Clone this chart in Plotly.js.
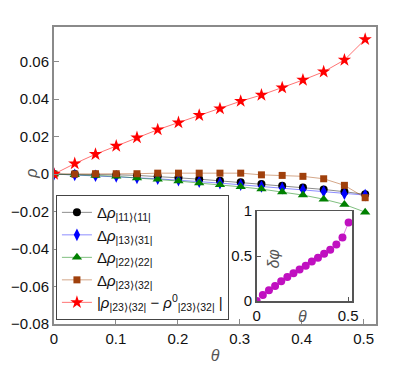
<!DOCTYPE html>
<html>
<head>
<meta charset="utf-8">
<script src="https://cdn.plot.ly/plotly-3.0.1.min.js"></script>
<style>
  html, body { margin: 0; padding: 0; background: #fff; }
  #chart { width: 415px; height: 366px; }
</style>
</head>
<body>
<div id="chart"></div>
<script>
// theta values shared by all series
const theta = [0, 0.0335, 0.067, 0.1005, 0.134, 0.1675, 0.201, 0.2345, 0.268, 0.3015, 0.335, 0.3685, 0.402, 0.4355, 0.469, 0.5025];

const rho11 = [0, 0, -0.0002, -0.0004, -0.0007, -0.0012, -0.002, -0.0027, -0.0036, -0.0044, -0.0053, -0.0062, -0.0071, -0.0082, -0.0094, -0.0108];
const rho13 = [0, -0.0004, -0.0009, -0.0012, -0.002, -0.0025, -0.0032, -0.0041, -0.0048, -0.0057, -0.0066, -0.0075, -0.0084, -0.0093, -0.0105, -0.0112];
const rho22 = [0, -0.0004, -0.0007, -0.0012, -0.0021, -0.0028, -0.0037, -0.0048, -0.0057, -0.0068, -0.008, -0.0096, -0.0112, -0.0134, -0.0162, -0.0203];
const rho23 = [0, 0, 0.0002, 0.0002, 0.0002, 0.0005, 0.0005, 0.0005, 0.0005, 0.0005, -0.0004, -0.0007, -0.0012, -0.0025, -0.006, -0.0126];
const absDiff = [0, 0.0056, 0.0106, 0.015, 0.0195, 0.0237, 0.0275, 0.0314, 0.0349, 0.0389, 0.0422, 0.0461, 0.0502, 0.0546, 0.0609, 0.0719];

// inset: phase difference
const dphi = [0, 0.067, 0.119, 0.167, 0.219, 0.267, 0.308, 0.352, 0.392, 0.441, 0.481, 0.526, 0.57, 0.63, 0.708, 0.874];

const labels = [
  "Δ<i>ρ</i><sub>|11⟩⟨11|</sub>",
  "Δ<i>ρ</i><sub>|13⟩⟨31|</sub>",
  "Δ<i>ρ</i><sub>|22⟩⟨22|</sub>",
  "Δ<i>ρ</i><sub>|23⟩⟨32|</sub>",
  "|<i>ρ</i><sub>|23⟩⟨32|</sub> − <i>ρ</i><sup>0</sup><sub>|23⟩⟨32|</sub> |"
];

function series(y, name, color, lineColor, symbol, size) {
  return {
    x: theta, y: y, name: name,
    type: "scatter", mode: "lines+markers",
    line: { color: lineColor, width: 1 },
    marker: { color: color, symbol: symbol, size: size }
  };
}

const traces = [
  series(rho11, labels[0], "#000000", "rgba(0,0,0,0.45)", "circle", 8),
  series(rho13, labels[1], "#0000ff", "rgba(0,0,255,0.45)", "diamond-tall", 9),
  series(rho22, labels[2], "#008000", "rgba(0,128,0,0.5)", "triangle-up", 9),
  series(rho23, labels[3], "#a0400c", "rgba(170,80,20,0.5)", "square", 7),
  series(absDiff, labels[4], "#ff0000", "rgba(255,0,0,0.55)", "star", 10),
  {
    x: theta, y: dphi, xaxis: "x2", yaxis: "y2",
    type: "scatter", mode: "lines+markers", showlegend: false,
    line: { color: "rgba(200,0,200,0.5)", width: 1 },
    marker: { color: "#c010c0", size: 8 }
  }
];

const mainAxis = {
  showline: true, mirror: true, linecolor: "#8a8a8a", linewidth: 2,
  ticks: "inside", ticklen: 5, tickcolor: "#8a8a8a",
  showgrid: false, zeroline: false,
  tickfont: { size: 15, color: "#111" }
};

const insetAxis = {
  showline: true, mirror: true, linecolor: "#555", linewidth: 1.5,
  ticks: "inside", ticklen: 4, tickcolor: "#555",
  showgrid: false, zeroline: false,
  tickfont: { size: 15, color: "#111" }
};

const layout = {
  width: 415, height: 366,
  margin: { l: 54, r: 39, t: 27, b: 42 },
  font: { family: "Liberation Sans, Arial, sans-serif", size: 15, color: "#111" },
  paper_bgcolor: "#fff", plot_bgcolor: "#fff",
  showlegend: true,
  legend: {
    x: 0.006, y: 0.434, xanchor: "left", yanchor: "top",
    bgcolor: "#fff", bordercolor: "#444", borderwidth: 1,
    itemwidth: 30,
    font: { size: 15, color: "#111" }
  },
  xaxis: Object.assign({}, mainAxis, {
    range: [0, 0.52], tickvals: [0, 0.1, 0.2, 0.3, 0.4, 0.5], ticktext: ["0", "0.1", "0.2", "0.3", "0.4", "0.5"],
    title: { text: "<i>θ</i>", font: { size: 16, color: "#555" }, standoff: 4 }
  }),
  yaxis: Object.assign({}, mainAxis, {
    range: [-0.08, 0.0785], tickvals: [-0.08, -0.06, -0.04, -0.02, 0, 0.02, 0.04, 0.06],
    ticktext: ["−0.08", "−0.06", "−0.04", "−0.02", "0", "0.02", "0.04", "0.06"]
  }),
  xaxis2: Object.assign({}, insetAxis, {
    domain: [0.6295, 0.926], anchor: "y2", range: [0, 0.522],
    tickvals: [0, 0.5], ticktext: ["0", "0.5"]
  }),
  yaxis2: Object.assign({}, insetAxis, {
    domain: [0.0774, 0.380], anchor: "x2", range: [0, 1],
    tickvals: [0, 0.5, 1], ticktext: ["0", "0.5", "1"]
  }),
  annotations: [
    // main y label sits right beside the "0" tick label
    { xref: "paper", yref: "paper", x: -0.072, y: 0.505, xanchor: "center", yanchor: "middle",
      text: "<i>ρ</i>", textangle: -90, showarrow: false, font: { size: 16, color: "#555" } },
    // inset labels
    { xref: "paper", yref: "paper", x: 0.683, y: 0.22, xanchor: "center", yanchor: "middle",
      text: "<i>δφ</i>", textangle: -90, showarrow: false, font: { size: 16, color: "#555" } },
    { xref: "paper", yref: "paper", x: 0.773, y: 0.024, xanchor: "center", yanchor: "middle",
      text: "<i>θ</i>", showarrow: false, font: { size: 16, color: "#555" } }
  ]
};

Plotly.newPlot("chart", traces, layout, { displayModeBar: false, staticPlot: true });
</script>
</body>
</html>
